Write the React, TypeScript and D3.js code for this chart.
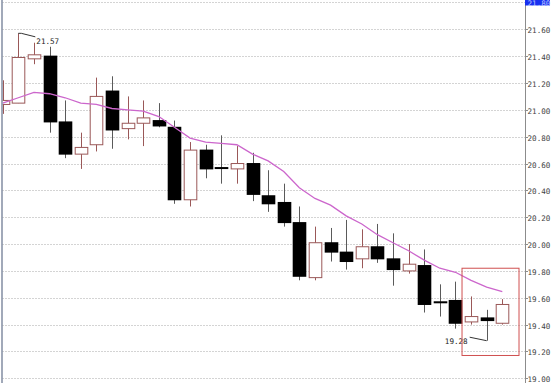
import React from 'react';
import * as d3 from 'd3';

const opens = [21.04, 21.05, 21.38, 21.40, 20.91, 20.67, 20.74, 21.14, 20.86, 20.90, 20.92, 20.87, 20.33, 20.70, 20.57, 20.56, 20.60, 20.36, 20.31, 20.16, 19.75, 20.01, 19.94, 19.89, 19.98, 19.89, 19.80, 19.84, 19.57, 19.58, 19.42, 19.45, 19.41];
const highs = [21.22, 21.57, 21.50, 21.47, 21.07, 20.83, 21.24, 21.25, 21.10, 21.07, 21.05, 20.92, 20.76, 20.74, 20.81, 20.73, 20.68, 20.55, 20.45, 20.28, 20.13, 20.12, 20.18, 20.11, 20.15, 20.08, 20.00, 19.96, 19.70, 19.72, 19.61, 19.51, 19.59];
const lows = [20.97, 21.05, 21.34, 20.83, 20.64, 20.56, 20.69, 20.71, 20.78, 20.73, 20.87, 20.30, 20.28, 20.49, 20.45, 20.45, 20.32, 20.24, 20.13, 19.73, 19.73, 19.87, 19.81, 19.82, 19.86, 19.69, 19.78, 19.49, 19.46, 19.37, 19.40, 19.28, 19.40];
const closes = [21.07, 21.39, 21.41, 20.91, 20.67, 20.72, 21.10, 20.85, 20.90, 20.94, 20.88, 20.33, 20.70, 20.56, 20.57, 20.60, 20.37, 20.30, 20.16, 19.76, 20.01, 19.94, 19.87, 19.98, 19.89, 19.81, 19.85, 19.55, 19.57, 19.41, 19.46, 19.43, 19.55];
const ma = [21.05, 21.09, 21.13, 21.12, 21.09, 21.05, 21.04, 21.01, 21.00, 20.99, 20.95, 20.87, 20.79, 20.76, 20.75, 20.74, 20.67, 20.62, 20.54, 20.42, 20.34, 20.29, 20.21, 20.15, 20.07, 20.01, 19.95, 19.88, 19.82, 19.79, 19.73, 19.68, 19.645];
const yTicks = [19.0, 19.2, 19.4, 19.6, 19.8, 20.0, 20.2, 20.4, 20.6, 20.8, 21.0, 21.2, 21.4, 21.6, 21.8];
const highMark = { index: 1, value: 21.57, text: '21.57' };
const lowMark = { index: 31, value: 19.28, text: '19.28' };
const boxFrom = 29.42;
const boxTo = 33.07;
const boxTop = 19.82;
const boxBottom = 19.17;

const UP = '#9a5858';
const FONT = '"DejaVu Sans Mono", "Liberation Mono", monospace';

export default function App() {
  const W = 552;
  const H = 383;
  const plotLeft = 2.5;
  const plotRight = 525;
  const x = d3.scaleLinear().domain([0, 32]).range([2.7, 502.3]);
  const y = d3.scaleLinear().domain([19, 21.6]).range([378.3, 29.3]);
  const bodyW = 13.6;
  const fmt = d3.format('.2f');
  const maLine = d3.line<number>().x((_, i) => x(i)).y((d) => y(d))(ma) || '';

  return (
    <svg width={W} height={H} style={{ position: 'fixed', left: 0, top: 0, background: '#fff' }}>
      <defs>
        <clipPath id="plot">
          <rect x={plotLeft} y={0} width={plotRight - plotLeft} height={H} />
        </clipPath>
      </defs>
      {yTicks.map((t) => (
        <line key={'g' + t} x1={plotLeft} x2={plotRight} y1={Math.round(y(t)) + 0.5} y2={Math.round(y(t)) + 0.5}
          stroke="#a8a8a8" strokeDasharray="1,2" />
      ))}
      <g clipPath="url(#plot)">
        {opens.map((o, i) => {
          const c = closes[i];
          const cx = Math.round(x(i)) + 0.5;
          const up = c > o;
          const top = y(Math.max(o, c));
          const bot = y(Math.min(o, c));
          if (up) {
            return (
              <g key={i}>
                <line x1={cx} x2={cx} y1={y(highs[i])} y2={y(lows[i])} stroke={UP} />
                <rect x={cx - bodyW / 2 + 0.5} y={top} width={bodyW - 1} height={Math.max(1, bot - top)} fill="#fff" stroke={UP} />
              </g>
            );
          }
          return (
            <g key={i}>
              <line x1={cx} x2={cx} y1={y(highs[i])} y2={y(lows[i])} stroke="#5a5a5a" />
              <rect x={cx - bodyW / 2} y={top - 0.5} width={bodyW} height={Math.max(2, bot - top + 1)} fill="#000" />
            </g>
          );
        })}
        <path d={maLine} fill="none" stroke="#cc66cc" strokeWidth={1.3} />
      </g>
      <polyline
        points={`${x(highMark.index)},${y(highMark.value)} ${x(highMark.index) + 3},${y(highMark.value)} ${x(highMark.index) + 17},${y(highMark.value) + 3.5}`}
        fill="none" stroke="#333" strokeWidth={1} />
      <text x={x(highMark.index) + 18} y={y(highMark.value) + 11} fontFamily={FONT} fontSize={7.6} fill="#222">{highMark.text}</text>
      <polyline
        points={`${x(lowMark.index)},${y(lowMark.value)} ${x(lowMark.index) - 17},${y(lowMark.value) - 3.5}`}
        fill="none" stroke="#333" strokeWidth={1} />
      <text x={x(lowMark.index) - 19} y={y(lowMark.value) + 3} textAnchor="end" fontFamily={FONT} fontSize={7.6} fill="#222">{lowMark.text}</text>
      <rect x={x(boxFrom)} y={y(boxTop)} width={x(boxTo) - x(boxFrom)} height={y(boxBottom) - y(boxTop)}
        fill="none" stroke="#d05050" strokeWidth={1} />
      <line x1={2} x2={2} y1={0} y2={H} stroke="#8a94a8" strokeWidth={1.6} />
      <line x1={525.5} x2={525.5} y1={0} y2={H} stroke="#8c8c8c" strokeWidth={1} />
      {yTicks.map((t) => {
        const ty = Math.round(y(t)) + 0.5;
        const hi = t === 21.8;
        return (
          <g key={'t' + t}>
            <line x1={526} x2={528} y1={ty} y2={ty} stroke="#8c8c8c" />
            {hi && <rect x={525} y={ty - 6} width={25} height={9} fill="#1830f0" />}
            <text x={527.5} y={ty + 3} fontFamily={FONT} fontSize={7.6} fill={hi ? '#b8c4ff' : '#444'}>{fmt(t)}</text>
          </g>
        );
      })}
    </svg>
  );
}
